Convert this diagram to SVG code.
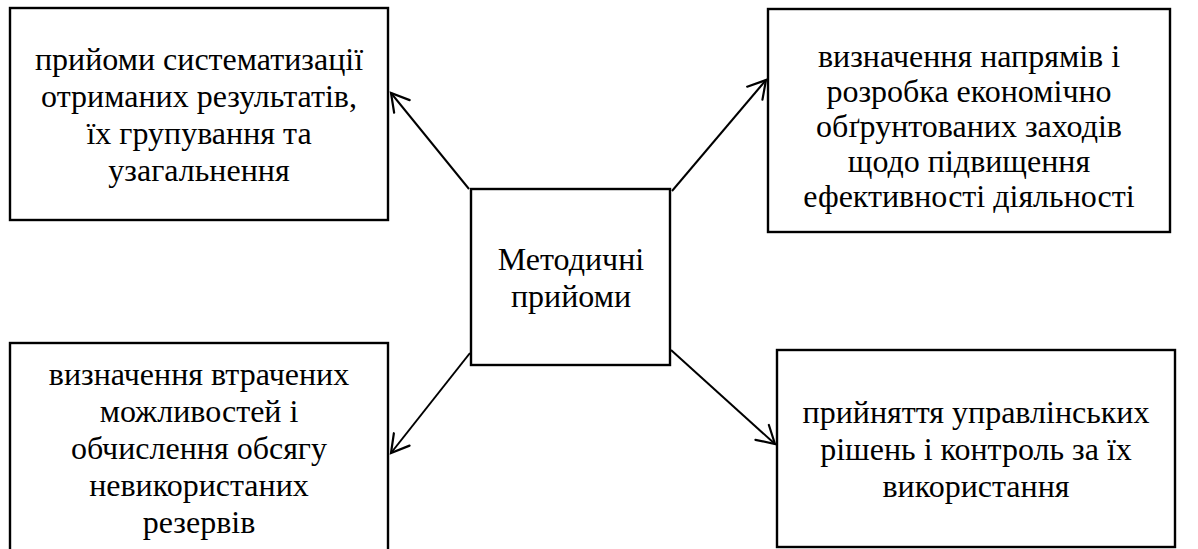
<svg xmlns="http://www.w3.org/2000/svg" width="1198" height="549" viewBox="0 0 1198 549">
<style>
.box{fill:#fff;stroke:#000;stroke-width:2.4}
.t{font-family:"Liberation Serif","Times New Roman",serif;font-size:32px;fill:#000;text-anchor:middle}
.c{stroke:#000;stroke-width:2;fill:none}
</style>
<defs>
<marker id="arr" markerUnits="userSpaceOnUse" viewBox="0 0 24 24" markerWidth="24" markerHeight="24" refX="21" refY="12" orient="auto">
<path d="M3.7,2 L21,12 L3.7,22" fill="none" stroke="#000" stroke-width="2.2" stroke-linecap="round" stroke-linejoin="miter"/>
</marker>
</defs>
<rect width="1198" height="549" fill="#fff"/>
<g id="connectors">
<line class="c" x1="469" y1="189" x2="391" y2="93" marker-end="url(#arr)"/>
<line class="c" x1="672" y1="191" x2="766" y2="80" marker-end="url(#arr)"/>
<line class="c" x1="470" y1="353" x2="391" y2="453" marker-end="url(#arr)"/>
<line class="c" x1="671" y1="350" x2="775" y2="444" marker-end="url(#arr)"/>
</g>
<g id="node-tl">
<rect class="box" x="10" y="8" width="378" height="212"/>
<text class="t"><tspan x="199" y="70">прийоми систематизації</tspan><tspan x="199" y="106.5">отриманих результатів,</tspan><tspan x="199" y="143.5">їх групування та</tspan><tspan x="199" y="180.5">узагальнення</tspan></text>
</g>
<g id="node-tr">
<rect class="box" x="768" y="9" width="402" height="223"/>
<text class="t"><tspan x="969" y="67">визначення напрямів і</tspan><tspan x="969" y="102">розробка економічно</tspan><tspan x="969" y="137">обґрунтованих заходів</tspan><tspan x="969" y="172">щодо підвищення</tspan><tspan x="969" y="207">ефективності діяльності</tspan></text>
</g>
<g id="node-center">
<rect class="box" x="471" y="189" width="199" height="176"/>
<text class="t"><tspan x="571" y="270">Методичні</tspan><tspan x="571" y="307">прийоми</tspan></text>
</g>
<g id="node-bl">
<rect class="box" x="10" y="343" width="378" height="230"/>
<text class="t"><tspan x="199" y="385">визначення втрачених</tspan><tspan x="199" y="422">можливостей і</tspan><tspan x="199" y="459">обчислення обсягу</tspan><tspan x="199" y="496">невикористаних</tspan><tspan x="199" y="533">резервів</tspan></text>
</g>
<g id="node-br">
<rect class="box" x="777" y="350" width="398" height="197"/>
<text class="t"><tspan x="976" y="423">прийняття управлінських</tspan><tspan x="976" y="460">рішень і контроль за їх</tspan><tspan x="976" y="497">використання</tspan></text>
</g>
</svg>
